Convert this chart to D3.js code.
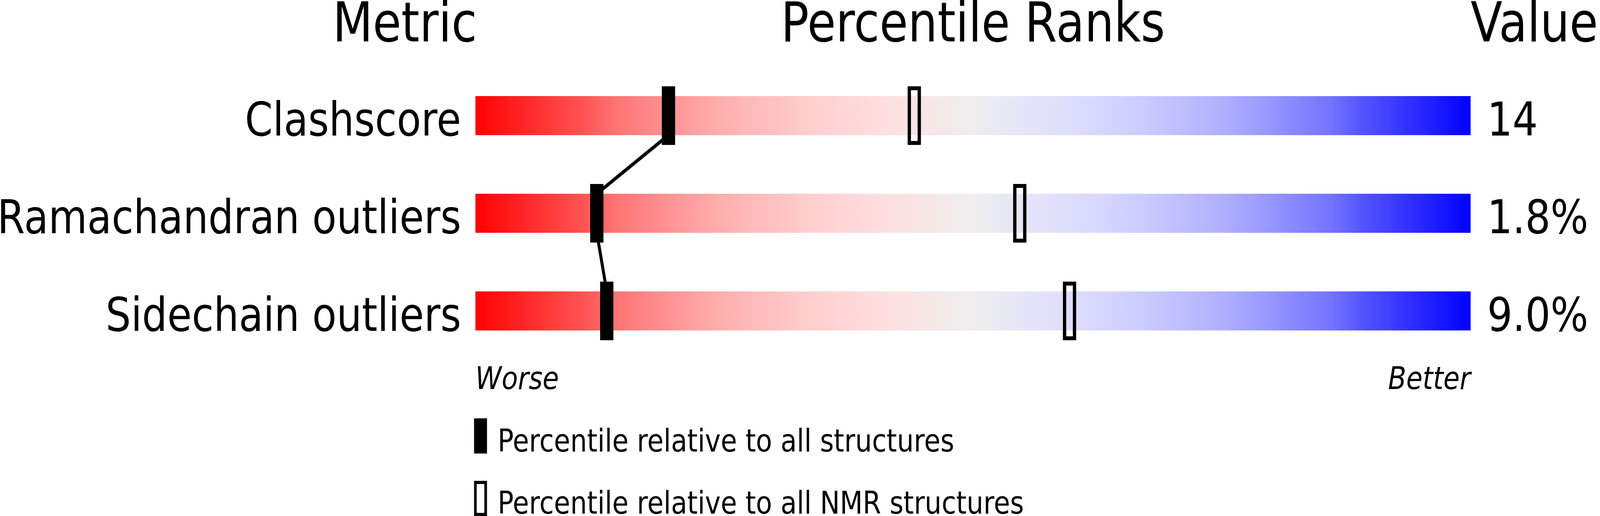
<!DOCTYPE html>
<html>
<head>
<meta charset="utf-8">
<script src="https://cdn.jsdelivr.net/npm/d3@7"></script>
<style>
  html, body { margin: 0; padding: 0; background: #fff; overflow: hidden; }
  svg { display: block; width: 100vw; height: 100vh; font-family: "DejaVu Sans", sans-serif; }
</style>
</head>
<body>
<svg id="chart" viewBox="0 0 4823 1321" preserveAspectRatio="none"></svg>
<script>
// chart data
const metrics = ["Clashscore", "Ramachandran outliers", "Sidechain outliers"];
const values = ["14", "1.8%", "9.0%"];
const pctAll = [19.4, 12.2, 13.2];   // percentile relative to all structures
const pctNmr = [44.1, 54.7, 59.7];   // percentile relative to all NMR structures
const legendLabels = ["Percentile relative to all structures", "Percentile relative to all NMR structures"];

const svg = d3.select("#chart");

const x = d3.scaleLinear().domain([0, 100]).range([1433, 4433]);
const y = d3.scalePoint().domain(metrics).range([296, 796]);

const barH = 100, markW = 40, markH = 150;

// red -> grey -> blue slider gradient
const stops = [
  [0, "rgb(255,0,0)"], [0.06, "rgb(255,47,47)"], [0.11, "rgb(255,85,85)"],
  [0.14, "rgb(255,115,115)"], [0.2, "rgb(255,150,150)"], [0.25, "rgb(255,176,176)"],
  [0.33, "rgb(255,204,204)"], [0.4, "rgb(255,221,221)"], [0.5, "rgb(238,238,238)"],
  [0.6, "rgb(221,221,255)"], [0.67, "rgb(204,204,255)"], [0.75, "rgb(176,176,255)"],
  [0.8, "rgb(150,150,255)"], [0.86, "rgb(115,115,255)"], [0.89, "rgb(85,85,255)"],
  [0.94, "rgb(47,47,255)"], [1, "rgb(0,0,255)"]
];
const grad = svg.append("defs").append("linearGradient").attr("id", "slider");
grad.selectAll("stop").data(stops).join("stop")
  .attr("offset", d => d[0])
  .attr("stop-color", d => d[1]);

// headers
const head = svg.append("g").attr("font-size", 140).attr("fill", "#000");
head.append("text").attr("x", 1438).attr("y", 106).attr("text-anchor", "end").text("Metric");
head.append("text").attr("x", (x(0) + x(100)) / 2).attr("y", 106).attr("text-anchor", "middle").text("Percentile Ranks");
head.append("text").attr("x", x(100)).attr("y", 106).text("Value");

// bars
svg.append("g").selectAll("rect").data(metrics).join("rect")
  .attr("x", x(0))
  .attr("y", d => y(d) - barH / 2)
  .attr("width", x(100) - x(0))
  .attr("height", barH)
  .attr("fill", "url(#slider)");

// row labels and values
svg.append("g").attr("font-size", 120).selectAll("text").data(metrics).join("text")
  .attr("x", x(0) - 43)
  .attr("y", d => y(d) + 51)
  .attr("text-anchor", "end")
  .text(d => d);

svg.append("g").attr("font-size", 120).selectAll("text").data(values).join("text")
  .attr("x", x(100) + 50)
  .attr("y", (d, i) => y(metrics[i]) + 51)
  .text(d => d);

// lines joining the "all structures" markers
const links = d3.pairs(metrics.map((m, i) => ({ m, p: pctAll[i] })));
svg.append("g").selectAll("line").data(links).join("line")
  .attr("x1", d => x(d[0].p))
  .attr("y1", d => y(d[0].m) + barH / 2)
  .attr("x2", d => x(d[1].p))
  .attr("y2", d => y(d[1].m) - barH / 2)
  .attr("stroke", "#000")
  .attr("stroke-width", 9);

// markers
svg.append("g").selectAll("rect").data(metrics).join("rect")
  .attr("x", (d, i) => x(pctAll[i]) - markW / 2)
  .attr("y", d => y(d) - markH / 2)
  .attr("width", markW)
  .attr("height", markH)
  .attr("fill", "#000");

svg.append("g").selectAll("rect").data(metrics).join("rect")
  .attr("x", (d, i) => x(pctNmr[i]) - markW / 2 + 5)
  .attr("y", d => y(d) - markH / 2 + 5)
  .attr("width", markW - 10)
  .attr("height", markH - 10)
  .attr("fill", "none")
  .attr("stroke", "#000")
  .attr("stroke-width", 10);

// worse / better
svg.append("text").attr("x", x(0)).attr("y", 996).attr("font-size", 80)
  .attr("font-style", "italic").text("Worse");
svg.append("text").attr("x", x(100)).attr("y", 996).attr("font-size", 80)
  .attr("font-style", "italic").attr("text-anchor", "end").text("Better");

// legend
const leg = svg.append("g");
leg.append("rect").attr("x", 1429).attr("y", 1071).attr("width", 39).attr("height", 90).attr("fill", "#000");
leg.append("rect").attr("x", 1433).attr("y", 1235).attr("width", 31).attr("height", 82)
  .attr("fill", "none").attr("stroke", "#000").attr("stroke-width", 8);
leg.selectAll("text").data(legendLabels).join("text")
  .attr("x", 1500)
  .attr("y", (d, i) => 1156 + i * 159)
  .attr("font-size", 80)
  .text(d => d);
</script>
</body>
</html>
